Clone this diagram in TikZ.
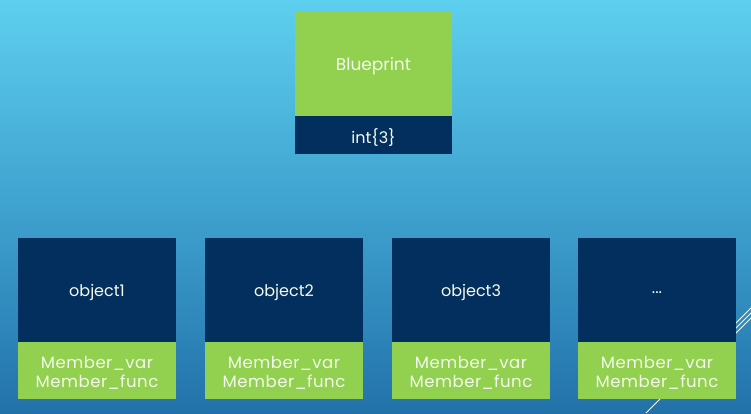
\documentclass[tikz,border=0pt]{standalone}
\usepackage{fontspec}
\setmainfont{Poppins}
\definecolor{bgtop}{HTML}{5ECFEE}
\definecolor{bgmid}{HTML}{3FA2CF}
\definecolor{bgbot}{HTML}{2272AA}
\definecolor{leaf}{HTML}{92D050}
\definecolor{navy}{HTML}{032F5E}
\definecolor{txt}{HTML}{F4FAEC}
\newcommand{\mydots}{...}
\newcommand{\dn}[1]{\raisebox{-2.5pt}[\height][\depth]{#1}}
\begin{document}
\begin{tikzpicture}[x=1pt,y=-1pt,
  part/.style={inner sep=0pt, outer sep=0pt, align=center, text=txt, font=\fontsize{16}{19}\selectfont},
  memb/.style={part, font=\fontsize{16.5}{21}\selectfont\addfontfeatures{LetterSpace=3}},
  deco/.style={white, line width=0.8pt}]
\useasboundingbox (0,0) rectangle (751,413);
\shade[top color=bgtop, bottom color=bgbot, middle color=bgmid] (0,0) rectangle (751,413);
% decorative lines
\coordinate (d1a) at (646,413); \coordinate (d1b) at (751,308);
\coordinate (d2a) at (730,334); \coordinate (d2b) at (751,313);
\coordinate (d3a) at (733,336); \coordinate (d3b) at (751,318);
\draw[deco] (d1a) -- (d1b);
\draw[deco] (d2a) -- (d2b);
\draw[deco] (d3a) -- (d3b);
% blueprint
\node[part, fill=leaf, minimum width=157, minimum height=104, anchor=north west, font=\fontsize{17}{20}\selectfont] (bp) at (295,12) {\dn{Blueprint}};
\node[part, fill=navy, minimum width=157, minimum height=38, anchor=north west] (bpint) at (295,116) {\dn{int\{3\}}};
% objects
\foreach \x/\n/\t in {18/o1/object1, 205/o2/object2, 392/o3/object3, 578/o4/\mydots}{
  \node[part, fill=navy, minimum width=158, minimum height=104, anchor=north west] (\n) at (\x,238) {\dn{\t}};
  \node[memb, fill=leaf, minimum width=158, minimum height=57, anchor=north west] (\n m) at (\x,342) {\dn{\shortstack{Member\_var\\[2pt]Member\_func}}};
}
\end{tikzpicture}
\end{document}
